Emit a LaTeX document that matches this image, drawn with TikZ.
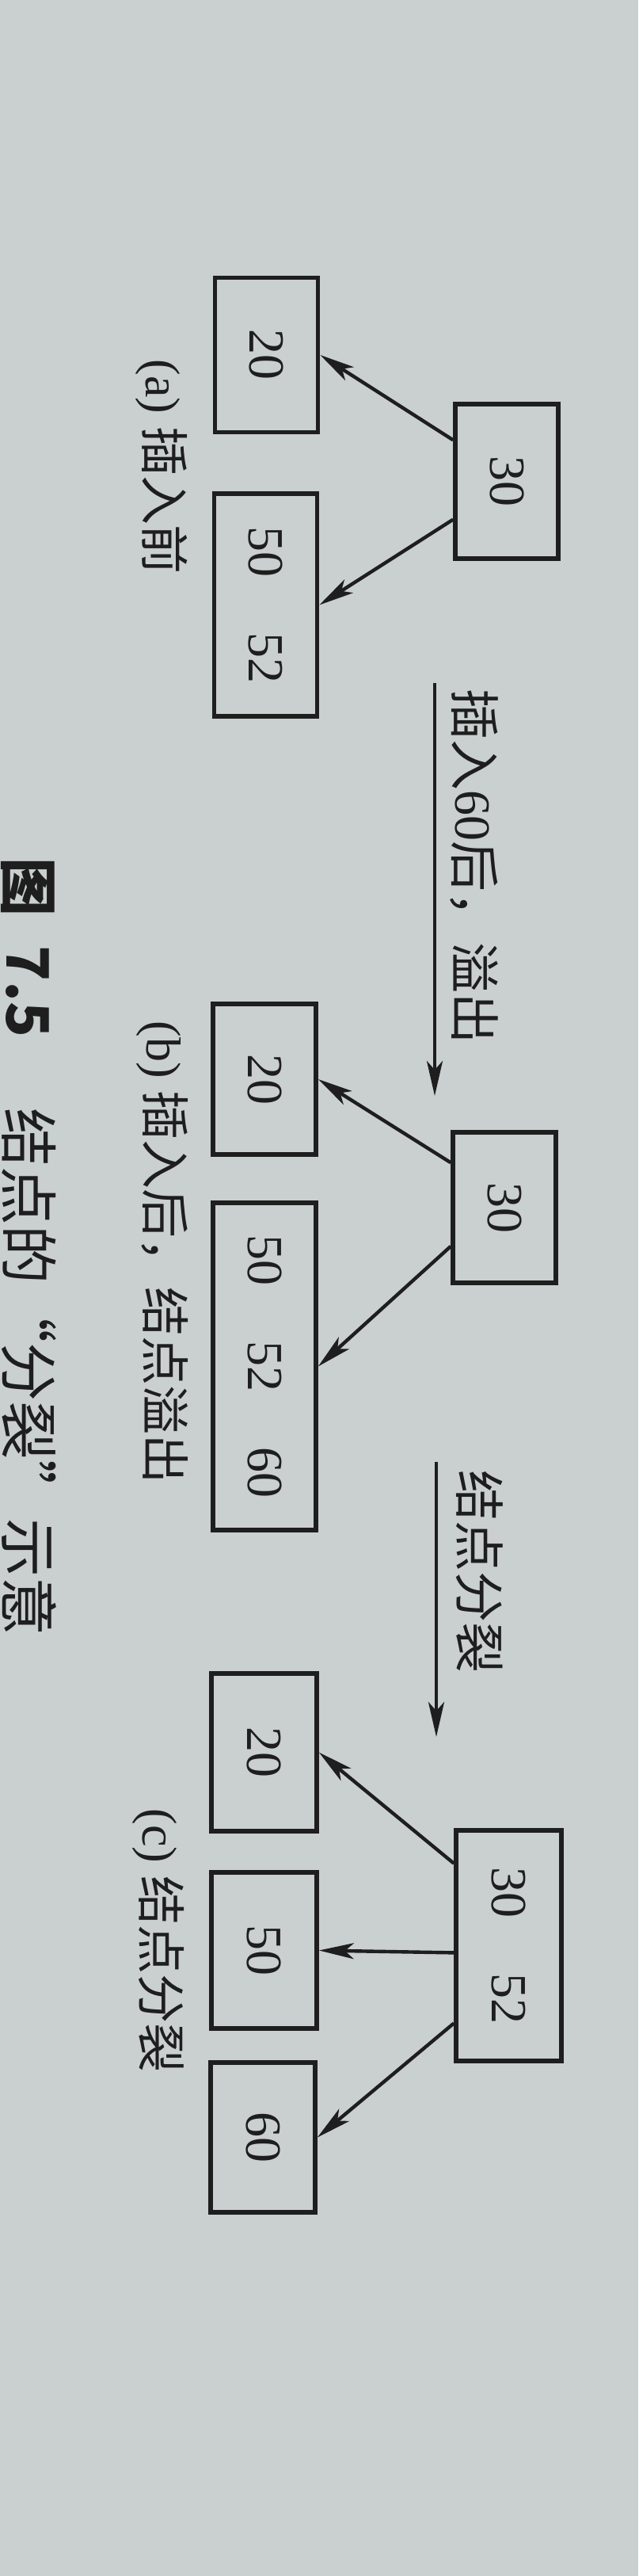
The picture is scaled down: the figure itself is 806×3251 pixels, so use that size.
\documentclass[tikz,border=0pt]{standalone}
\usepackage{fontspec}
\setmainfont{Liberation Serif}
\newfontfamily\cjk{Noto Sans CJK SC}
\usetikzlibrary{arrows.meta,calc}
\definecolor{paper}{RGB}{202,207,207}
\definecolor{ink}{RGB}{30,30,30}
\begin{document}
\begin{tikzpicture}[x=0.25pt,y=-0.25pt,
  keybox/.style={draw=ink,line width=1.4pt,minimum width=32.5pt,minimum height=48.75pt,inner sep=0pt,text=ink,font=\fontsize{16pt}{18pt}\selectfont},
  link/.style={draw=ink,line width=1.1pt,-{Stealth[length=11pt,width=5pt,inset=2.8pt]}},
  sublabel/.style={rotate=-90,anchor=west,inner sep=0pt,text=ink,font=\fontsize{15.5pt}{17pt}\selectfont},
  steplabel/.style={rotate=-90,anchor=west,inner sep=0pt,text=ink,font=\fontsize{16pt}{18pt}\selectfont},
  captext/.style={rotate=-90,anchor=west,inner sep=0pt,text=ink,font=\cjk\fontsize{18.5pt}{20pt}\selectfont}
]
\useasboundingbox (0,0) rectangle (806,3251);
\fill[paper] (0,0) rectangle (806,3251);

% ---------- (a) before insertion ----------
\node[keybox] (a20) at (336.5,448) {\rotatebox{-90}{20}};
\node[keybox] (a30) at (640,607.5) {\rotatebox{-90}{30}};
\node[keybox,minimum height=70.25pt] (a5052) at (335.5,763.5) {\rotatebox{-90}{50\hspace{1.1em}52}};
\draw[link] ($(a30.north west)!0.24!(a30.south west)$) -- (a20.east);
\draw[link] ($(a30.north west)!0.74!(a30.south west)$) -- (a5052.east);
\node[sublabel] (la) at (204.5,453) {(a) {\cjk 插入前}};

% ---------- transition 1 ----------
\coordinate (s1) at (549,862);
\coordinate (e1) at (549,1383);
\draw[link] (s1) -- (e1);
\node[steplabel] (t1) at (599,869) {{\cjk 插入}60{\cjk 后，溢出}};

% ---------- (b) after insertion ----------
\node[keybox,minimum height=47.5pt] (b20) at (334,1362) {\rotatebox{-90}{20}};
\node[keybox,minimum height=47.5pt] (b30) at (637,1524) {\rotatebox{-90}{30}};
\node[keybox,minimum height=103.25pt] (b505260) at (334,1724.5) {\rotatebox{-90}{50\hspace{1.1em}52\hspace{1.1em}60}};
\draw[link] ($(b30.north west)!0.21!(b30.south west)$) -- (b20.east);
\draw[link] ($(b30.north west)!0.75!(b30.south west)$) -- (b505260.east);
\node[sublabel] (lb) at (204.5,1288) {(b) {\cjk 插入后，结点溢出}};

% ---------- transition 2 ----------
\coordinate (s2) at (551,1845);
\coordinate (e2) at (551,2192);
\draw[link] (s2) -- (e2);
\node[steplabel] (t2) at (605.5,1855) {{\cjk 结点分裂}};

% ---------- (c) after split ----------
\node[keybox,minimum width=33.25pt,minimum height=49.75pt] (c20) at (333.5,2211.5) {\rotatebox{-90}{20}};
\node[keybox,minimum width=33.25pt,minimum height=72.75pt] (c3052) at (642.5,2455.5) {\rotatebox{-90}{30\hspace{1.1em}52}};
\node[keybox,minimum width=33.25pt,minimum height=49.25pt] (c50) at (333.5,2461.5) {\rotatebox{-90}{50}};
\node[keybox,minimum width=33pt,minimum height=47.25pt] (c60) at (332,2697.5) {\rotatebox{-90}{60}};
\draw[link] ($(c3052.north west)!0.15!(c3052.south west)$) -- (c20.east);
\draw[link] ($(c3052.north west)!0.53!(c3052.south west)$) -- (c50.east);
\draw[link] ($(c3052.north west)!0.83!(c3052.south west)$) -- (c60.east);
\node[sublabel] (lc) at (199.5,2282) {(c) {\cjk 结点分裂}};

% ---------- caption ----------
\node[captext] (cap) at (36,1082) {{\bfseries 图\hspace{0.5em}7.5}\hspace{1.2em}结点的“分裂”示意};
\end{tikzpicture}
\end{document}
